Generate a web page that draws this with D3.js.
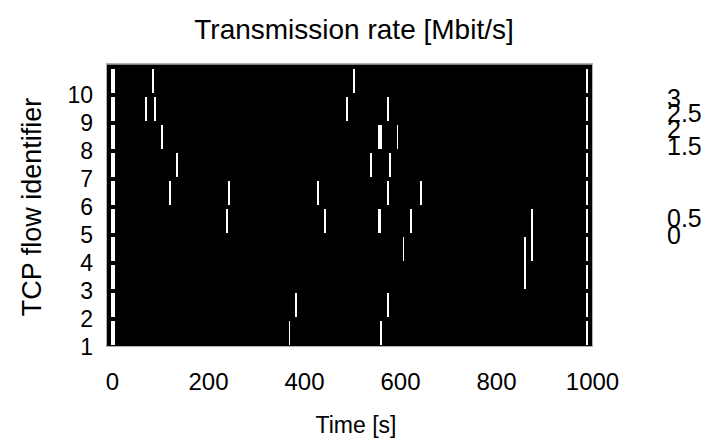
<!DOCTYPE html>
<html>
<head>
<meta charset="utf-8">
<script src="https://cdn.jsdelivr.net/npm/d3@7"></script>
<style>
  html, body { margin: 0; padding: 0; background: #fff; }
  svg text { font-family: "Liberation Sans", Arial, Helvetica, sans-serif; fill: #000; }
</style>
</head>
<body>
<svg id="chart" width="707" height="447"></svg>
<script>
// Flow identifiers (rows) and axis ticks
const flowIds = [1, 2, 3, 4, 5, 6, 7, 8, 9, 10];
const timeTicks = [0, 200, 400, 600, 800, 1000];
const rateTicks = [3, 2.5, 2, 1.5, 0.5, 0];

// Transmission bursts: centre time [s], lowest flow, highest flow, duration [s]
const burstTime = [
  2, 2, 2, 2, 2, 2, 2, 2, 2, 2,
  85.5, 504,
  71, 89.5, 489.5, 575,
  104, 558, 594,
  135.5, 539.5, 579,
  121, 244, 429, 575, 644,
  239.5, 444, 558, 623, 875,
  608, 860.5,
  383, 575,
  369, 560.5,
  989.5, 989.5, 989.5, 989.5, 989.5, 989.5, 989.5, 989.5, 989.5, 989.5
];
const burstFlowLo = [
  1, 2, 3, 4, 5, 6, 7, 8, 9, 10,
  10, 10,
  9, 9, 9, 9,
  8, 8, 8,
  7, 7, 7,
  6, 6, 6, 6, 6,
  5, 5, 5, 5, 4,
  4, 3,
  2, 2,
  1, 1,
  1, 2, 3, 4, 5, 6, 7, 8, 9, 10
];
const burstFlowHi = [
  1, 2, 3, 4, 5, 6, 7, 8, 9, 10,
  10, 10,
  9, 9, 9, 9,
  8, 8, 8,
  7, 7, 7,
  6, 6, 6, 6, 6,
  5, 5, 5, 5, 5,
  4, 4,
  2, 2,
  1, 1,
  1, 2, 3, 4, 5, 6, 7, 8, 9, 10
];
const burstDuration = [
  8, 8, 8, 8, 8, 8, 8, 8, 8, 8,
  4, 4,
  4, 4, 2.5, 4,
  4, 7, 2.5,
  4, 2.5, 4,
  4, 4, 2.5, 4, 4,
  2.5, 5, 6, 2.5, 4,
  2.5, 4,
  4, 4,
  2.5, 4,
  2.5, 2.5, 2.5, 2.5, 2.5, 2.5, 2.5, 4, 4, 3
];

const bursts = burstTime.map((t, i) => ({
  t, lo: burstFlowLo[i], hi: burstFlowHi[i], d: burstDuration[i]
}));

const svg = d3.select("#chart");
const plotL = 107, plotR = 592, plotT = 65, plotB = 345;

const x = d3.scaleLinear().domain([-10.4, 1000]).range([plotL, plotR]);
const y = d3.scaleLinear().domain([1, 11]).range([plotB, plotT]);
// colour-bar label placement
const rateY = d3.scaleLinear()
  .domain([0, 0.5, 1.5, 2, 2.5, 3])
  .range([235, 218, 146, 129, 113, 98]);

// plot background (rate ~ 0 everywhere)
svg.append("rect")
  .attr("x", plotL).attr("y", plotT - 0.5)
  .attr("width", plotR - plotL).attr("height", plotB - plotT + 1.5)
  .attr("fill", "#000");

// frame
svg.append("rect")
  .attr("x", plotL - 0.5).attr("y", plotT - 1.5)
  .attr("width", plotR - plotL + 1).attr("height", plotB - plotT + 3)
  .attr("fill", "none").attr("stroke", "#b0b0b0").attr("stroke-width", 1);

// bursts
const inset = 4;
svg.append("g").attr("shape-rendering", "crispEdges")
  .selectAll("rect").data(bursts).join("rect")
  .attr("x", d => x(d.t) - (x(d.t + d.d) - x(d.t)) / 2)
  .attr("width", d => Math.max(1, x(d.t + d.d) - x(d.t)))
  .attr("y", d => y(d.hi + 1) + inset)
  .attr("height", d => y(d.lo) - y(d.hi + 1) - inset)
  .attr("fill", "#fff");

// x axis
const xAxis = d3.axisBottom(x).tickValues(timeTicks)
  .tickFormat(d3.format("d")).tickSize(0).tickPadding(0);
const gx = svg.append("g").attr("transform", `translate(0,${plotB + 28})`).call(xAxis);
gx.select(".domain").remove();
gx.selectAll("text").attr("font-size", 24).attr("dy", "0.71em")
  .style("font-family", "Liberation Sans, Arial, sans-serif");

// y axis
const yAxis = d3.axisLeft(y).tickValues(flowIds).tickSize(0).tickPadding(0);
const gy = svg.append("g").attr("transform", `translate(${plotL - 14},2)`).call(yAxis);
gy.select(".domain").remove();
gy.selectAll("text").attr("font-size", 23)
  .style("font-family", "Liberation Sans, Arial, sans-serif");

// colour-bar tick labels
svg.append("g").selectAll("text").data(rateTicks).join("text")
  .attr("x", 667).attr("y", d => rateY(d))
  .attr("dy", "0.35em")
  .attr("font-size", 25)
  .text(d => d);

// titles
svg.append("text").attr("x", 354).attr("y", 39)
  .attr("text-anchor", "middle").attr("font-size", 28)
  .text("Transmission rate [Mbit/s]");
svg.append("text").attr("x", 356).attr("y", 433)
  .attr("text-anchor", "middle").attr("font-size", 23)
  .text("Time [s]");
svg.append("text")
  .attr("transform", "translate(41,207) rotate(-90)")
  .attr("text-anchor", "middle").attr("font-size", 27)
  .text("TCP flow identifier");
</script>
</body>
</html>
